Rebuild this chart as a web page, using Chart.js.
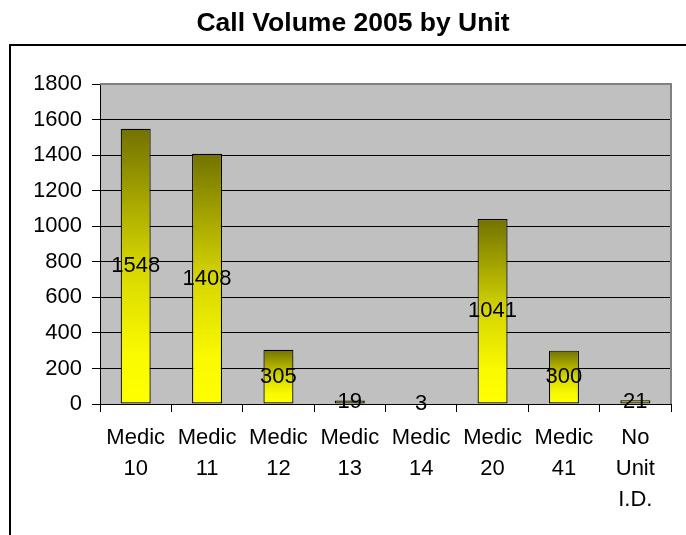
<!DOCTYPE html>
<html>
<head>
<meta charset="utf-8">
<script src="https://cdn.jsdelivr.net/npm/chart.js@4/dist/chart.umd.min.js"></script>
<style>
  html, body { margin: 0; padding: 0; background: #fff; overflow: hidden; width: 686px; height: 535px; }
  #frame { position: absolute; left: 9px; top: 44px; width: 720px; height: 600px; border: 2px solid #000; box-sizing: border-box; }
  #c { position: absolute; left: 0; top: 0; }
</style>
</head>
<body>
<div id="frame"></div>
<canvas id="c" width="686" height="535"></canvas>
<script>
const titleText = "Call Volume 2005 by Unit";
const categories = [
  ["Medic", "10"], ["Medic", "11"], ["Medic", "12"], ["Medic", "13"],
  ["Medic", "14"], ["Medic", "20"], ["Medic", "41"], ["No", "Unit", "I.D."]
];
const callVolume = [1548, 1408, 305, 19, 3, 1041, 300, 21];
const yMin = 0, yMax = 1800, yStep = 200;

const FONT = "'Liberation Sans', Arial, sans-serif";

const plotBg = {
  id: 'plotBg',
  beforeDraw(chart) {
    const {ctx, chartArea: a} = chart;
    ctx.save();
    ctx.fillStyle = '#C0C0C0';
    ctx.fillRect(a.left, a.top, a.right - a.left, a.bottom - a.top);
    ctx.restore();
  },
  beforeDatasetsDraw(chart) {
    const {ctx, chartArea: a} = chart;
    ctx.save();
    ctx.strokeStyle = '#808080';
    ctx.lineWidth = 2;
    ctx.beginPath();
    ctx.moveTo(a.left, a.top);
    ctx.lineTo(a.right, a.top);
    ctx.lineTo(a.right, a.bottom);
    ctx.stroke();
    ctx.restore();
  }
};

const valueLabels = {
  id: 'valueLabels',
  afterDatasetsDraw(chart) {
    const {ctx} = chart;
    const meta = chart.getDatasetMeta(0);
    ctx.save();
    ctx.font = "22px " + FONT;
    ctx.fillStyle = '#000';
    ctx.textAlign = 'center';
    ctx.textBaseline = 'middle';
    meta.data.forEach((bar, i) => {
      const v = chart.data.datasets[0].data[i];
      ctx.fillText(String(v), bar.x, (bar.y + bar.base) / 2);
    });
    ctx.restore();
  }
};

function barGradient(context) {
  const chart = context.chart;
  if (!chart.chartArea || context.type !== 'data') return '#ffff00';
  const ys = chart.scales.y;
  const top = ys.getPixelForValue(context.parsed.y);
  const base = ys.getPixelForValue(0);
  if (base - top < 8) return '#e8e800';
  const g = chart.ctx.createLinearGradient(0, top, 0, base);
  g.addColorStop(0, '#727200');
  g.addColorStop(0.5, '#d6d600');
  g.addColorStop(0.82, '#fafa00');
  g.addColorStop(1, '#ffff00');
  return g;
}

new Chart(document.getElementById('c'), {
  type: 'bar',
  data: {
    labels: categories,
    datasets: [{
      data: callVolume,
      backgroundColor: barGradient,
      borderColor: '#000',
      borderWidth: 1.2,
      borderSkipped: false,
      categoryPercentage: 1,
      barPercentage: 0.42
    }]
  },
  plugins: [plotBg, valueLabels],
  options: {
    responsive: false,
    animation: false,
    devicePixelRatio: 1,
    layout: { padding: { left: 35, right: 15, top: 0, bottom: 0 } },
    plugins: {
      legend: { display: false },
      tooltip: { enabled: false },
      title: {
        display: true,
        text: titleText,
        color: '#000',
        font: { family: FONT, size: 26.5, weight: 'bold', lineHeight: 1.2 },
        padding: { top: 8, bottom: 44.2 }
      }
    },
    scales: {
      x: {
        offset: true,
        grid: { offset: true, drawOnChartArea: false, drawTicks: true, tickLength: 8, color: '#000', lineWidth: 1 },
        border: { display: true, color: '#000', width: 1 },
        ticks: {
          color: '#000',
          font: { family: FONT, size: 22, lineHeight: 1.41 },
          padding: 10,
          maxRotation: 0,
          autoSkip: false
        },
        afterFit(scale) { scale.height = 131; }
      },
      y: {
        min: yMin,
        max: yMax,
        grid: { color: '#000', lineWidth: 1, drawTicks: true, tickLength: 8 },
        border: { display: true, color: '#000', width: 1 },
        ticks: {
          stepSize: yStep,
          color: '#000',
          font: { family: FONT, size: 22 },
          padding: 10,
          callback: (v) => String(v)
        },
        afterFit(scale) { scale.width = 65; }
      }
    }
  }
});
</script>
</body>
</html>
